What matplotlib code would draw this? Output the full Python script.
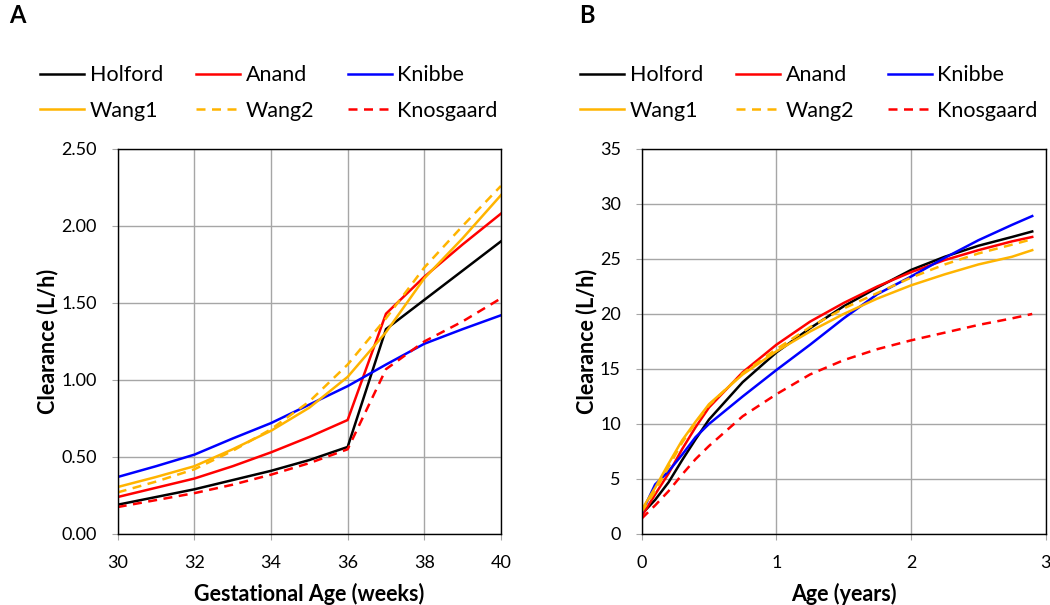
import matplotlib.pyplot as plt
import numpy as np

plt.rcParams['font.family'] = ['Lato', 'DejaVu Sans']

# Panel A: gestational age (weeks)
ga = [30, 31, 32, 33, 34, 35, 36, 37, 38, 39, 40]
a_holford = [0.19, 0.24, 0.29, 0.35, 0.41, 0.48, 0.565, 1.33, 1.52, 1.71, 1.90]
a_anand = [0.24, 0.30, 0.36, 0.44, 0.53, 0.63, 0.74, 1.43, 1.67, 1.88, 2.08]
a_knibbe = [0.37, 0.44, 0.515, 0.62, 0.72, 0.84, 0.96, 1.10, 1.235, 1.33, 1.42]
a_wang1 = [0.305, 0.37, 0.44, 0.55, 0.67, 0.82, 1.02, 1.31, 1.66, 1.92, 2.20]
a_wang2 = [0.27, 0.34, 0.42, 0.54, 0.68, 0.86, 1.10, 1.40, 1.73, 2.00, 2.26]
a_knos = [0.175, 0.22, 0.265, 0.32, 0.385, 0.46, 0.55, 1.07, 1.25, 1.38, 1.53]

# Panel B: postnatal age (years)
age = [0, 0.1, 0.2, 0.3, 0.4, 0.5, 0.75, 1.0, 1.25, 1.5, 1.75, 2.0, 2.25, 2.5, 2.75, 2.9]
b_holford = [1.8, 3.1, 4.7, 6.7, 8.6, 10.4, 13.8, 16.5, 18.7, 20.7, 22.4, 24.0, 25.2, 26.2, 27.0, 27.5]
b_anand = [1.6, 3.6, 5.5, 7.7, 9.7, 11.5, 14.7, 17.2, 19.3, 21.0, 22.5, 23.8, 24.9, 25.8, 26.6, 27.0]
b_knibbe = [1.9, 4.5, 5.7, 7.2, 8.8, 10.0, 12.5, 14.9, 17.2, 19.6, 21.8, 23.4, 25.1, 26.7, 28.1, 28.9]
b_wang1 = [2.2, 4.2, 6.4, 8.5, 10.2, 11.8, 14.5, 16.6, 18.4, 20.0, 21.4, 22.6, 23.6, 24.5, 25.2, 25.8]
b_wang2 = [2.0, 3.9, 6.1, 8.3, 10.1, 11.7, 14.6, 16.8, 18.8, 20.5, 21.9, 23.3, 24.5, 25.5, 26.3, 26.8]
b_knos = [1.4, 2.6, 3.9, 5.4, 6.8, 8.0, 10.7, 12.7, 14.5, 15.8, 16.8, 17.6, 18.3, 19.0, 19.6, 20.0]

names = ['Holford', 'Anand', 'Knibbe', 'Wang1', 'Wang2', 'Knosgaard']
colors = ['black', '#FF0000', '#0000FF', '#FFB400', '#FFB400', '#FF0000']
styles = ['-', '-', '-', '-', '--', '--']

fig = plt.figure(figsize=(10.5, 6.05), dpi=100)
axA = fig.add_axes([0.1121, 0.1174, 0.365, 0.6364])
axB = fig.add_axes([0.6111, 0.1174, 0.3848, 0.6364])

panels = [
    (axA, ga, [a_holford, a_anand, a_knibbe, a_wang1, a_wang2, a_knos], 0.0381),
    (axB, age, [b_holford, b_anand, b_knibbe, b_wang1, b_wang2, b_knos], 0.5524),
]

for ax, x, series, legx in panels:
    handles = []
    for name, y, c, ls in zip(names, series, colors, styles):
        h, = ax.plot(x, y, color=c, lw=1.8, label=name)
        if ls == '--':
            h.set_dashes((3.6, 2.6))
        handles.append(h)
    ax.grid(True, color='#A6A6A6', lw=1)
    ax.set_axisbelow(True)
    for s in ax.spines.values():
        s.set_color('black')
        s.set_linewidth(1)
    ax.tick_params(direction='out', length=4, color='#A6A6A6', labelsize=13, pad=11)
    ax.set_ylabel('Clearance (L/h)', fontsize=15.5, fontweight='bold', labelpad=2)
    order = [0, 3, 1, 4, 2, 5]
    fig.legend([handles[i] for i in order], [names[i] for i in order],
               ncol=3, loc='center left', bbox_to_anchor=(legx, 0.846),
               frameon=False, fontsize=15.5, handlelength=2.05, handletextpad=0.25,
               columnspacing=1.55, labelspacing=0.72, borderpad=0, borderaxespad=0)

axA.set_xlim(30, 40)
axA.set_ylim(0, 2.5)
axA.set_xticks([30, 32, 34, 36, 38, 40])
axA.set_yticks(np.arange(0, 2.51, 0.5))
axA.yaxis.set_major_formatter(plt.FormatStrFormatter('%.2f'))
axA.set_xlabel('Gestational Age (weeks)', fontsize=15.5, fontweight='bold', labelpad=9)

axB.set_xlim(0, 3)
axB.set_ylim(0, 35)
axB.set_xticks([0, 1, 2, 3])
axB.set_yticks(range(0, 36, 5))
axB.set_xlabel('Age (years)', fontsize=15.5, fontweight='bold', labelpad=9)

fig.text(0.009, 0.993, 'A', fontsize=17, fontweight='bold', va='top')
fig.text(0.552, 0.993, 'B', fontsize=17, fontweight='bold', va='top')

fig.savefig('out.png', dpi=100)
